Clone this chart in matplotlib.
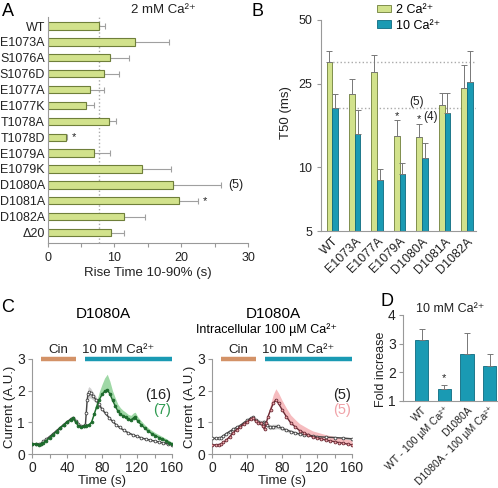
import numpy as np
import matplotlib
matplotlib.use('Agg')
import matplotlib.pyplot as plt

plt.rcParams['font.family'] = ['Liberation Sans', 'DejaVu Sans']

CA = 'Ca\u00b2\u207a'

# ---- panel A: rise time, 2 mM Ca
a_labels = ['WT', 'E1073A', 'S1076A', 'S1076D', 'E1077A', 'E1077K', 'T1078A',
            'T1078D', 'E1079A', 'E1079K', 'D1080A', 'D1081A', 'D1082A', '\u039420']
a_rise = [7.7, 13.1, 9.4, 8.5, 6.3, 5.7, 9.2, 2.7, 7.0, 14.1, 18.7, 19.6, 11.5, 9.5]
a_err = [0.9, 5.0, 2.8, 2.2, 2.1, 1.3, 1.1, 0.2, 2.3, 4.4, 7.3, 2.9, 3.1, 2.0]

# ---- panel B: T50
b_groups = ['WT', 'E1073A', 'E1077A', 'E1079A', 'D1080A', 'D1081A', 'D1082A']
b_2ca = [31.7, 22.4, 28.2, 14.1, 13.9, 19.7, 23.7]
b_2ca_err = [4.0, 4.0, 6.0, 2.6, 2.1, 2.8, 7.0]
b_10ca = [19.1, 14.4, 8.7, 9.3, 11.1, 18.1, 25.3]
b_10ca_err = [3.3, 4.3, 1.1, 1.2, 1.9, 4.4, 10.4]

# ---- panel C: current traces (time s, A.U.)
cl_wt_t = [0, 4, 8, 10, 13, 16, 20, 24, 28, 32, 36, 40, 44, 47, 50, 53, 56, 59, 61, 62, 63, 64, 65,
           67, 70, 73, 76, 80, 84, 88, 92, 96, 100, 105, 110, 115, 120, 125, 130, 135, 140, 145, 150, 155, 160]
cl_wt_v = [0.32, 0.32, 0.32, 0.33, 0.40, 0.46, 0.55, 0.64, 0.74, 0.83, 0.93, 1.02, 1.10, 1.15, 1.05, 0.95,
           0.88, 0.89, 0.92, 1.30, 1.70, 1.90, 1.95, 1.92, 1.82, 1.72, 1.58, 1.42, 1.28, 1.15, 1.03, 0.93,
           0.84, 0.75, 0.67, 0.61, 0.56, 0.51, 0.47, 0.44, 0.41, 0.38, 0.35, 0.32, 0.29]
cl_wt_e = [0.03, 0.03, 0.03, 0.03, 0.03, 0.03, 0.03, 0.03, 0.03, 0.03, 0.03, 0.04, 0.04, 0.04, 0.04, 0.04,
           0.04, 0.04, 0.05, 0.10, 0.15, 0.18, 0.18, 0.16, 0.12, 0.10, 0.08, 0.06, 0.05, 0.04, 0.04, 0.03,
           0.03, 0.03, 0.03, 0.03, 0.03, 0.03, 0.03, 0.03, 0.03, 0.03, 0.03, 0.03, 0.03]
cl_mut_t = [0, 4, 8, 10, 13, 16, 20, 24, 28, 32, 36, 40, 44, 47, 50, 53, 56, 59, 62, 65, 68, 71, 74, 77,
            80, 83, 86, 89, 92, 95, 98, 101, 104, 107, 110, 113, 116, 118, 121, 125, 129, 133, 137, 141,
            145, 149, 153, 157, 160]
cl_mut_v = [0.32, 0.31, 0.30, 0.31, 0.36, 0.42, 0.51, 0.61, 0.71, 0.81, 0.91, 1.00, 1.08, 1.14, 1.00,
            0.90, 0.85, 0.88, 0.90, 0.92, 1.00, 1.25, 1.50, 1.72, 1.88, 1.98, 2.02, 1.90, 1.70, 1.52,
            1.36, 1.26, 1.20, 1.16, 1.10, 1.07, 1.14, 1.16, 1.03, 0.92, 0.81, 0.72, 0.64, 0.58, 0.52,
            0.47, 0.42, 0.36, 0.32]
cl_mut_e = [0.03, 0.03, 0.03, 0.03, 0.03, 0.03, 0.03, 0.03, 0.03, 0.03, 0.03, 0.03, 0.04, 0.04, 0.04,
            0.04, 0.04, 0.04, 0.05, 0.05, 0.08, 0.12, 0.18, 0.25, 0.32, 0.42, 0.50, 0.40, 0.30, 0.26,
            0.22, 0.20, 0.18, 0.16, 0.15, 0.15, 0.16, 0.16, 0.14, 0.12, 0.11, 0.10, 0.10, 0.09, 0.09,
            0.08, 0.07, 0.06, 0.05]
cr_wt_t = [0, 4, 8, 10, 13, 16, 20, 24, 28, 32, 36, 40, 44, 47, 50, 53, 56, 59, 61, 63, 66, 70, 75, 80,
           85, 90, 95, 100, 105, 110, 115, 120, 130, 140, 150, 160]
cr_wt_v = [0.49, 0.50, 0.51, 0.52, 0.58, 0.64, 0.71, 0.78, 0.84, 0.90, 0.98, 1.06, 1.13, 1.16, 1.07,
           1.02, 0.98, 1.00, 0.98, 0.92, 0.85, 0.86, 0.87, 0.81, 0.76, 0.71, 0.67, 0.63, 0.61, 0.60,
           0.57, 0.55, 0.53, 0.52, 0.50, 0.48]
cr_wt_e = [0.04, 0.04, 0.04, 0.04, 0.04, 0.04, 0.04, 0.04, 0.04, 0.04, 0.04, 0.04, 0.05, 0.05, 0.06,
           0.07, 0.08, 0.08, 0.08, 0.08, 0.08, 0.08, 0.07, 0.06, 0.05, 0.05, 0.04, 0.04, 0.04, 0.04,
           0.04, 0.04, 0.04, 0.04, 0.04, 0.04]
cr_mut_t = [0, 4, 8, 10, 13, 16, 20, 24, 28, 32, 36, 40, 44, 47, 50, 53, 56, 58, 60, 62, 64, 67, 70, 73,
            76, 80, 85, 90, 95, 100, 105, 110, 115, 120, 125, 130, 135, 140, 145, 150, 155, 160]
cr_mut_v = [0.28, 0.29, 0.30, 0.31, 0.37, 0.43, 0.54, 0.66, 0.77, 0.85, 0.94, 1.02, 1.09, 1.14, 1.03,
            0.97, 0.99, 0.88, 0.78, 0.98, 1.18, 1.40, 1.60, 1.71, 1.60, 1.40, 1.18, 0.98, 0.86, 0.74,
            0.67, 0.60, 0.54, 0.50, 0.47, 0.44, 0.41, 0.39, 0.36, 0.34, 0.31, 0.29]
cr_mut_e = [0.03, 0.03, 0.03, 0.03, 0.03, 0.03, 0.03, 0.03, 0.03, 0.03, 0.03, 0.03, 0.04, 0.04, 0.04,
            0.04, 0.04, 0.05, 0.05, 0.07, 0.10, 0.18, 0.28, 0.35, 0.33, 0.30, 0.27, 0.25, 0.23, 0.22,
            0.21, 0.20, 0.19, 0.19, 0.18, 0.17, 0.17, 0.16, 0.16, 0.15, 0.15, 0.15]

# ---- panel D: fold increase
d_labels = ['WT', 'WT - 100 \u00b5M ' + CA, 'D1080A', 'D1080A - 100 \u00b5M ' + CA]
d_fold = [3.12, 1.41, 2.63, 2.23]
d_err = [0.40, 0.16, 0.73, 0.40]

GREEN = '#d2e28c'
GREEN_EDGE = '#6f7f3a'
BLUE = '#1a9ab3'
BLUE_EDGE = '#0d6a80'
ORANGE = '#d39267'
SPINE = '#999999'
TXT = '#222222'

W, H = 498, 488
fig = plt.figure(figsize=(W / 100, H / 100), dpi=100)


def px_axes(x0, y0, x1, y1):
    return fig.add_axes([x0 / W, 1 - y1 / H, (x1 - x0) / W, (y1 - y0) / H])


def style(ax):
    for s in ['top', 'right']:
        ax.spines[s].set_visible(False)
    for s in ['left', 'bottom']:
        ax.spines[s].set_color(SPINE)
        ax.spines[s].set_linewidth(0.8)
    ax.tick_params(colors=SPINE, labelcolor=TXT, length=3, width=0.8, labelsize=9)


# ================= A
axA = px_axes(47.7, 17, 248, 243)
style(axA)
ya = np.arange(len(a_labels))
axA.barh(ya, a_rise, height=0.46, color=GREEN, edgecolor=GREEN_EDGE, linewidth=0.8, zorder=2)
axA.errorbar(a_rise, ya, xerr=[np.zeros(len(a_err)), a_err], fmt='none', ecolor='#a0a0a0',
             elinewidth=0.8, capsize=2.5, capthick=0.8, zorder=1)
axA.axvline(a_rise[0], color='#aaaaaa', ls=':', lw=1, zorder=0)
axA.set_ylim(13.66, -0.57)
axA.set_xlim(0, 30)
axA.set_yticks(ya)
axA.set_yticklabels(a_labels, fontsize=9)
axA.tick_params(axis='y', length=0, pad=2)
axA.set_xticks([0, 10, 20, 30])
axA.set_xticks([5, 15, 25], minor=True)
axA.tick_params(axis='x', which='minor', length=3, width=0.8, colors=SPINE)
axA.set_xlabel('Rise Time 10-90% (s)', fontsize=9.5, color=TXT, labelpad=2)
axA.text(a_err[7] + a_rise[7] + 1.0, 7, '*', ha='center', va='center', fontsize=8, color=TXT)
axA.text(a_err[11] + a_rise[11] + 1.0, 11, '*', ha='center', va='center', fontsize=8, color=TXT)
axA.text(28.2, 10, '(5)', ha='center', va='center', fontsize=9, color=TXT, clip_on=False)
axA.text(0.58, 1.03, '2 mM ' + CA, transform=axA.transAxes, ha='center', va='center',
         fontsize=9.5, color=TXT)
fig.text(2 / W, 1 - 11 / H, 'A', fontsize=13, va='center', ha='left')

# ================= B
axB = px_axes(321, 20, 476, 231)
style(axB)
xb = np.arange(len(b_groups))
bw = 0.253
axB.bar(xb - bw / 2, b_2ca, width=bw, color=GREEN, edgecolor=GREEN_EDGE, linewidth=0.6,
        yerr=[np.zeros(7), b_2ca_err], ecolor='#777777', capsize=2.5,
        error_kw=dict(elinewidth=0.7, capthick=0.7), label='2 ' + CA, zorder=2)
axB.bar(xb + bw / 2, b_10ca, width=bw, color=BLUE, edgecolor=BLUE_EDGE, linewidth=0.6,
        yerr=[np.zeros(7), b_10ca_err], ecolor='#777777', capsize=2.5,
        error_kw=dict(elinewidth=0.7, capthick=0.7), label='10 ' + CA, zorder=2)
axB.set_yscale('log')
axB.set_ylim(5, 50)
axB.set_xlim(-0.5, 6.4)
axB.set_yticks([5, 10, 25, 50])
axB.set_yticklabels(['5', '10', '25', '50'])
axB.yaxis.set_minor_locator(matplotlib.ticker.NullLocator())
axB.set_xticks(xb)
axB.set_xticklabels(b_groups, rotation=45, ha='right', rotation_mode='anchor', fontsize=9)
axB.tick_params(axis='x', length=0, pad=3)
axB.hlines(b_2ca[0], -bw / 2, 6.4, colors='#aaaaaa', linestyles=':', lw=1, zorder=1)
axB.hlines(b_10ca[0], bw / 2, 6.4, colors='#aaaaaa', linestyles=':', lw=1, zorder=1)
axB.set_ylabel('T50 (ms)', fontsize=9.5, color=TXT)
axB.yaxis.set_label_coords(-0.19, 0.56)
axB.text(3 - bw / 2, 17.5, '*', ha='center', va='center', fontsize=8, color=TXT)
axB.text(4 - bw / 2, 16.9, '*', ha='center', va='center', fontsize=8, color=TXT)
axB.text(4.03, 17.3, '(4)', ha='left', va='center', fontsize=8.5, color=TXT)
axB.text(3.77, 20.5, '(5)', ha='center', va='center', fontsize=8.5, color=TXT)
axB.legend(loc='upper left', bbox_to_anchor=(0.33, 1.1), frameon=False, fontsize=9,
           handlelength=1.1, handleheight=0.6, handletextpad=0.4, labelspacing=0.3,
           borderaxespad=0)
fig.text(251 / W, 1 - 11 / H, 'B', fontsize=13, va='center', ha='left')


# ================= C
def trace_panel(x0, t1, v1, e1, t2, v2, e2, c_line, c_mfc, c_fill, c_num, n1, n2):
    ax = px_axes(x0, 359, x0 + 140, 454)
    style(ax)
    ax.fill_between(t1, np.array(v1) - e1, np.array(v1) + e1, color='#d0d0d0', lw=0, zorder=1)
    ax.fill_between(t2, v2, np.array(v2) + e2, color=c_fill, lw=0, zorder=1)
    ax.plot(t1, v1, '-o', color='#444444', lw=1.0, ms=2.0, mfc='white', mec='#444444', mew=0.6, zorder=3)
    ax.plot(t2, v2, '-o', color=c_line, lw=1.0, ms=2.0, mfc=c_mfc, mec=c_line, mew=0.6, zorder=4)
    ax.set_xlim(0, 160)
    ax.set_ylim(0, 3)
    ax.set_xticks([0, 40, 80, 120, 160])
    ax.set_xticks([20, 60, 100, 140], minor=True)
    ax.set_yticks([0, 1, 2, 3])
    ax.tick_params(axis='x', which='minor', length=3, width=0.8, colors=SPINE)
    ax.tick_params(labelsize=10, pad=2)
    ax.set_xlabel('Time (s)', fontsize=9.5, color=TXT, labelpad=0)
    ax.set_ylabel('Current (A.U.)', fontsize=9.5, color=TXT, labelpad=1)
    ax.plot([10, 50], [3, 3], color=ORANGE, lw=3.2, solid_capstyle='butt', clip_on=False, zorder=5)
    ax.plot([60, 160], [3, 3], color=BLUE, lw=3.2, solid_capstyle='butt', clip_on=False, zorder=5)
    ax.text(30, 3.27, 'Cin', ha='center', va='center', fontsize=9.5, color=TXT, clip_on=False)
    ax.text(98, 3.27, '10 mM ' + CA, ha='center', va='center', fontsize=9.5, color=TXT, clip_on=False)
    ax.text(159, 1.86, n1, ha='right', va='center', fontsize=10.5, color='#222222')
    ax.text(159, 1.38, n2, ha='right', va='center', fontsize=10.5, color=c_num)
    return ax


axC1 = trace_panel(32, cl_wt_t, cl_wt_v, cl_wt_e, cl_mut_t, cl_mut_v, cl_mut_e,
                   '#1d6b2c', '#1d6b2c', '#9fd8a6', '#2e9a50', '(16)', '(7)')
fig.text(103 / W, 1 - 314 / H, 'D1080A', fontsize=11, ha='center', va='center')
axC2 = trace_panel(212, cr_wt_t, cr_wt_v, cr_wt_e, cr_mut_t, cr_mut_v, cr_mut_e,
                   '#6a2a34', '#f2a9ae', '#f6bcbf', '#f0a2a8', '(5)', '(5)')
fig.text(273 / W, 1 - 314 / H, 'D1080A', fontsize=11, ha='center', va='center')
fig.text(266 / W, 1 - 330 / H, 'Intracellular 100 \u00b5M ' + CA, fontsize=9,
         ha='center', va='center')
fig.text(1 / W, 1 - 307 / H, 'C', fontsize=13, va='center', ha='left')

# ================= D
axD = px_axes(402.7, 315, 497, 401)
style(axD)
xd = np.arange(len(d_labels))
axD.bar(xd, d_fold, width=0.6, color=BLUE, edgecolor=BLUE_EDGE, linewidth=0.6,
        yerr=[np.zeros(4), d_err], ecolor='#777777', capsize=2.5,
        error_kw=dict(elinewidth=0.7, capthick=0.7), zorder=2)
axD.set_ylim(1, 4)
axD.set_xlim(-0.84, 3.33)
axD.set_yticks([1, 2, 3, 4])
axD.tick_params(axis='y', labelsize=10, pad=2)
axD.set_xticks(xd)
axD.set_xticklabels(d_labels, rotation=45, ha='right', rotation_mode='anchor', fontsize=7.5)
axD.tick_params(axis='x', length=0, pad=3)
axD.set_ylabel('Fold increase', fontsize=9, color=TXT)
axD.yaxis.set_label_coords(-0.17, 0.37)
axD.text(1, d_fold[1] + d_err[1] + 0.22, '*', ha='center', va='center', fontsize=8, color=TXT)
axD.set_title('10 mM ' + CA, fontsize=9, color=TXT, pad=2)
fig.text(380 / W, 1 - 293 / H, 'D', fontsize=13, va='top', ha='left')

fig.savefig('out.png', dpi=100)
